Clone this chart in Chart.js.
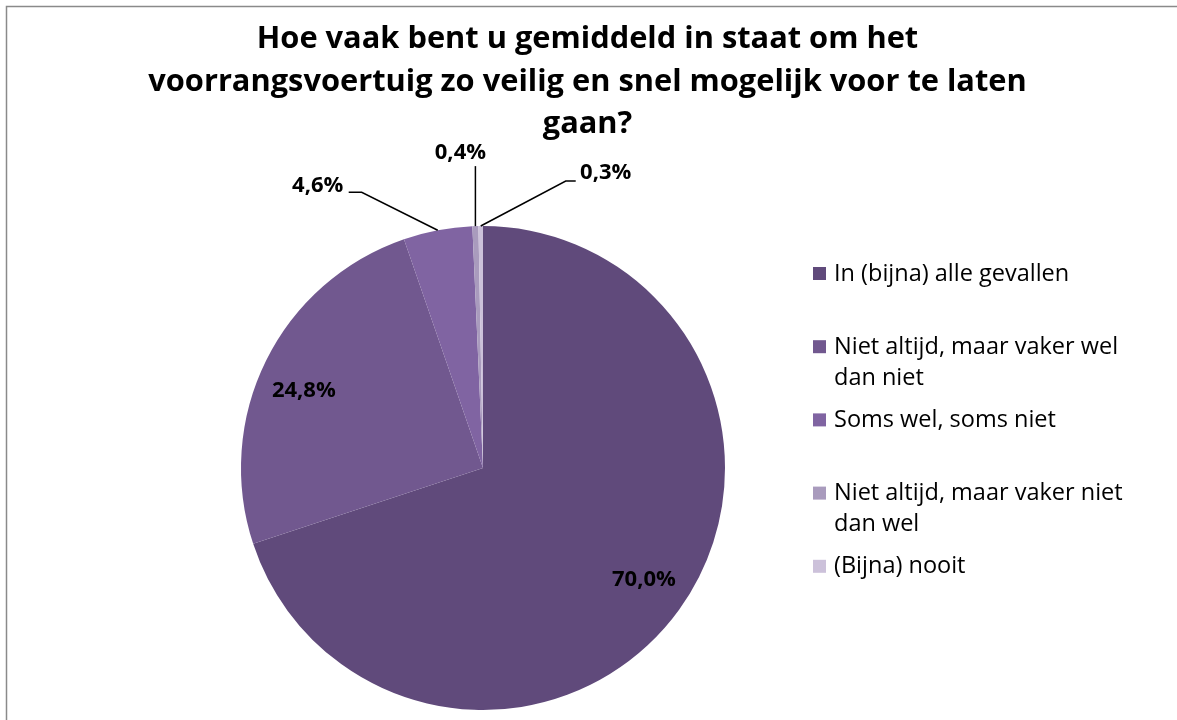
<!DOCTYPE html>
<html>
<head>
<meta charset="utf-8">
<title>Voorrangsvoertuig</title>
<script src="https://cdn.jsdelivr.net/npm/chart.js@4/dist/chart.umd.min.js"></script>
<style>
  html, body { margin: 0; padding: 0; background: #fff; }
  canvas { display: block; }
</style>
</head>
<body>
<canvas id="pieChart" width="1177" height="720"></canvas>
<script>
// survey answers and their shares (percent)
const categories = [
  "In (bijna) alle gevallen",
  "Niet altijd, maar vaker wel dan niet",
  "Soms wel, soms niet",
  "Niet altijd, maar vaker niet dan wel",
  "(Bijna) nooit",
];
const shares = [70.0, 24.8, 4.6, 0.4, 0.3];
const sliceColours = ["#604a7b", "#71588f", "#8064a2", "#a99bbd", "#ccc1da"];
const titleLines = [
  "Hoe vaak bent u gemiddeld in staat om het",
  "voorrangsvoertuig zo veilig en snel mogelijk voor te laten",
  "gaan?",
];

const FONT = "'Open Sans', 'DejaVu Sans', sans-serif";

// where each value label sits: inside labels use a fraction of the radius,
// outside labels get an offset from the slice edge plus a leader line
const labelPlacement = [
  { inside: true, frac: 0.78, dx: 8, dy: 1 },
  { inside: true, frac: 0.78, dx: -10, dy: 6 },
  { inside: false, dx: -120, dy: -45, elbow: [-76, -38], end: [-89, -38] },
  { inside: false, dx: -15, dy: -73, elbow: [0, -60], end: [0, -60] },
  { inside: false, dx: 125, dy: -53, elbow: [85, -45], end: [95, -45] },
];

function fmt(v) {
  return v.toFixed(1).replace(".", ",") + "%";
}

const decorPlugin = {
  id: "decor",
  beforeDraw(chart) {
    const ctx = chart.ctx;
    ctx.save();
    ctx.fillStyle = "#fff";
    ctx.fillRect(0, 0, chart.width, chart.height);
    ctx.strokeStyle = "#8a8a8a";
    ctx.lineWidth = 1.5;
    ctx.strokeRect(6.5, 6.5, chart.width + 20, chart.height + 20);
    ctx.restore();
  },
  afterDraw(chart) {
    const ctx = chart.ctx;
    ctx.save();

    // title
    ctx.fillStyle = "#000";
    ctx.textAlign = "center";
    ctx.textBaseline = "alphabetic";
    ctx.font = "bold 30.8px " + FONT;
    titleLines.forEach((line, i) => {
      ctx.fillText(line, chart.width / 2 - 1, 48 + i * 42.5);
    });

    // value labels
    const meta = chart.getDatasetMeta(0);
    ctx.font = "bold 22px " + FONT;
    ctx.textBaseline = "middle";
    ctx.strokeStyle = "#000";
    ctx.lineWidth = 1.5;
    meta.data.forEach((arc, i) => {
      const p = labelPlacement[i];
      const mid = (arc.startAngle + arc.endAngle) / 2;
      if (p.inside) {
        const r = arc.outerRadius * p.frac;
        ctx.fillText(fmt(shares[i]),
          arc.x + Math.cos(mid) * r + p.dx,
          arc.y + Math.sin(mid) * r + p.dy);
      } else {
        const ax = arc.x + Math.cos(mid) * arc.outerRadius;
        const ay = arc.y + Math.sin(mid) * arc.outerRadius;
        ctx.beginPath();
        ctx.moveTo(ax, ay);
        ctx.lineTo(ax + p.elbow[0], ay + p.elbow[1]);
        ctx.lineTo(ax + p.end[0], ay + p.end[1]);
        ctx.stroke();
        ctx.fillText(fmt(shares[i]), ax + p.dx, ay + p.dy);
      }
    });

    // legend, wrapped at a fixed width
    ctx.font = "23.5px " + FONT;
    ctx.textAlign = "left";
    const maxW = 312;
    const legendX = 813;
    const legendTop = 274;
    const step = 73.2;
    const lineH = 31;
    categories.forEach((name, i) => {
      const y = legendTop + i * step;
      ctx.fillStyle = sliceColours[i];
      ctx.fillRect(legendX, y - 7, 13, 13);
      const words = name.split(" ");
      const lines = [];
      let cur = "";
      words.forEach((w) => {
        const t = cur ? cur + " " + w : w;
        if (ctx.measureText(t).width > maxW && cur) {
          lines.push(cur);
          cur = w;
        } else {
          cur = t;
        }
      });
      lines.push(cur);
      ctx.fillStyle = "#000";
      lines.forEach((l, j) => ctx.fillText(l, legendX + 21, y + j * lineH));
    });

    ctx.restore();
  },
};

new Chart(document.getElementById("pieChart"), {
  type: "pie",
  data: {
    labels: categories,
    datasets: [
      {
        data: shares,
        backgroundColor: sliceColours,
        borderWidth: 0,
      },
    ],
  },
  options: {
    responsive: false,
    animation: false,
    layout: { padding: { left: 241, right: 452, top: 226, bottom: 10 } },
    plugins: {
      legend: { display: false },
      title: { display: false },
      tooltip: { enabled: false },
    },
  },
  plugins: [decorPlugin],
});
</script>
</body>
</html>
